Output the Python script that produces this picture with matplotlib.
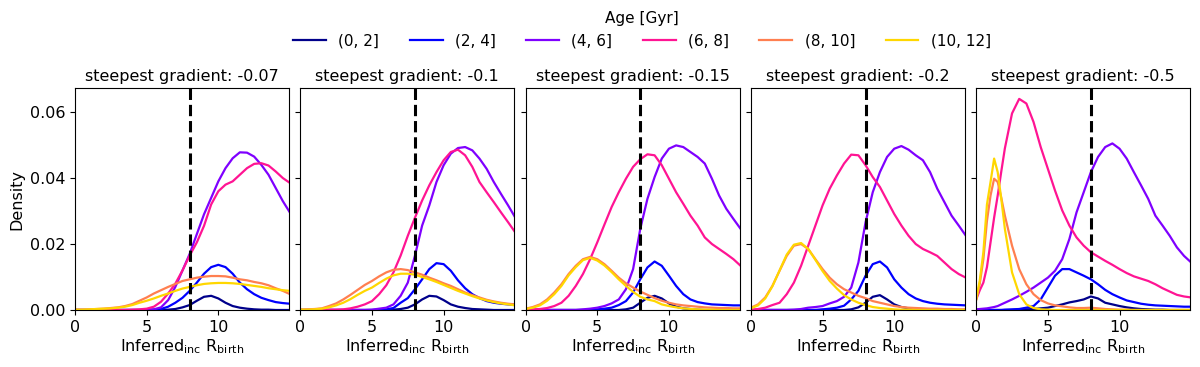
import matplotlib.pyplot as plt

# ==============================================================================
# Data
# ==============================================================================

AGE_BINS = ['(0, 2]', '(2, 4]', '(4, 6]', '(6, 8]', '(8, 10]', '(10, 12]']
COLORS = ['#00008b', '#0000ff', '#7f00ff', '#ff1493', '#ff7f50', '#ffd700']
GRADIENTS = ['-0.07', '-0.1', '-0.15', '-0.2', '-0.5']
R_SUN = 8

X_GRID = [0, 0.5, 1, 1.5, 2, 2.5, 3, 3.5, 4, 4.5, 5, 5.5, 6, 6.5, 7, 7.5,
          8, 8.5, 9, 9.5, 10, 10.5, 11, 11.5, 12, 12.5, 13, 13.5, 14, 14.5, 15]

X_GRID_FINE = [0, 0.25, 0.5, 0.75, 1, 1.25, 1.5, 1.75, 2, 2.5, 3, 3.5, 4, 4.5,
               5, 5.5, 6, 6.5, 7, 7.5, 8, 8.5, 9, 9.5, 10, 10.5, 11, 11.5, 12,
               12.5, 13, 13.5, 14, 14.5, 15]

# gradient -0.07
p1_age0 = [0, 0, 0, 0, 0, 0, 0, 0, 0, 0, 0, 0, 0, 0.0001, 0.0003, 0.0008,
           0.0015, 0.0028, 0.004, 0.0043, 0.0035, 0.0022, 0.0012, 0.0007,
           0.0004, 0.0002, 0.0001, 0.0001, 0, 0, 0]
p1_age2 = [0, 0, 0, 0, 0, 0, 0, 0, 0, 0, 0, 0.0001, 0.0003, 0.001, 0.0022,
           0.0037, 0.0058, 0.0083, 0.011, 0.013, 0.0137, 0.013, 0.011, 0.0083,
           0.0063, 0.0048, 0.0037, 0.003, 0.0024, 0.0021, 0.0019]
p1_age4 = [0, 0, 0, 0, 0, 0, 0, 0, 0, 0, 0.0001, 0.0002, 0.0008, 0.003,
           0.007, 0.012, 0.017, 0.023, 0.029, 0.034, 0.039, 0.043, 0.046,
           0.0478, 0.0477, 0.0465, 0.044, 0.041, 0.037, 0.033, 0.0295]
p1_age6 = [0, 0, 0, 0, 0, 0, 0, 0, 0.0001, 0.0002, 0.0004, 0.001, 0.0025,
           0.005, 0.008, 0.012, 0.0165, 0.0205, 0.0255, 0.032, 0.036, 0.038,
           0.039, 0.041, 0.043, 0.0443, 0.0445, 0.0438, 0.042, 0.040, 0.0385]
p1_age8 = [0.0001, 0.0001, 0.0002, 0.0003, 0.0004, 0.0006, 0.0008, 0.0012,
           0.0018, 0.0028, 0.0038, 0.005, 0.006, 0.007, 0.0079, 0.0088,
           0.0093, 0.0098, 0.0101, 0.0103, 0.0103, 0.0102, 0.0098, 0.0093,
           0.009, 0.0085, 0.0081, 0.0075, 0.0066, 0.0058, 0.0048]
p1_age10 = [0.0001, 0.0001, 0.0002, 0.0003, 0.0004, 0.0005, 0.0007, 0.001,
            0.0015, 0.0022, 0.0028, 0.0035, 0.0043, 0.005, 0.0058, 0.0065,
            0.007, 0.0075, 0.0079, 0.0081, 0.0082, 0.0082, 0.0081, 0.0079,
            0.0076, 0.0073, 0.007, 0.0066, 0.0063, 0.006, 0.0058]

# gradient -0.1
p2_age0 = [0, 0, 0, 0, 0, 0, 0, 0, 0, 0, 0, 0, 0, 0.0001, 0.0003, 0.0007,
           0.0017, 0.0032, 0.0043, 0.0041, 0.003, 0.0017, 0.001, 0.0006,
           0.0003, 0.0002, 0.0001, 0, 0, 0, 0]
p2_age2 = [0, 0, 0, 0, 0, 0, 0, 0, 0, 0, 0, 0.0001, 0.0002, 0.0006, 0.0022,
           0.0036, 0.0063, 0.0093, 0.0124, 0.0142, 0.0139, 0.0119, 0.009,
           0.0066, 0.0048, 0.0036, 0.0027, 0.0022, 0.0019, 0.0017, 0.0016]
p2_age4 = [0, 0, 0, 0, 0, 0, 0, 0, 0, 0, 0.0001, 0.0004, 0.0007, 0.0017,
           0.0043, 0.0083, 0.0165, 0.0256, 0.0317, 0.0388, 0.0439, 0.0474,
           0.0491, 0.0494, 0.0484, 0.0459, 0.0428, 0.0388, 0.0352, 0.0317,
           0.028]
p2_age6 = [0, 0, 0, 0, 0.0001, 0.0001, 0.0002, 0.0005, 0.001, 0.0017, 0.0027,
           0.0048, 0.0075, 0.0114, 0.0165, 0.0225, 0.028, 0.0332, 0.0378,
           0.0418, 0.0454, 0.0479, 0.0486, 0.0469, 0.0434, 0.0388, 0.0357,
           0.0327, 0.0296, 0.0266, 0.0235]
p2_age8 = [0.0001, 0.0002, 0.0003, 0.0005, 0.0012, 0.002, 0.0032, 0.0046,
           0.0061, 0.0076, 0.0088, 0.0102, 0.0114, 0.0122, 0.0124, 0.0121,
           0.0114, 0.0107, 0.0098, 0.009, 0.0081, 0.0073, 0.0063, 0.0053,
           0.0045, 0.0038, 0.0031, 0.0026, 0.0022, 0.0019, 0.0017]
p2_age10 = [0.0001, 0.0001, 0.0002, 0.0004, 0.0008, 0.0014, 0.0022, 0.0033,
            0.0046, 0.0058, 0.0068, 0.0082, 0.0095, 0.0105, 0.011, 0.011,
            0.0107, 0.01, 0.0093, 0.0085, 0.0076, 0.0067, 0.0058, 0.005,
            0.0042, 0.0035, 0.0029, 0.0024, 0.002, 0.0017, 0.0014]

# gradient -0.15
p3_age0 = [0, 0, 0, 0, 0, 0, 0, 0, 0, 0, 0, 0, 0, 0, 0.0002, 0.0007, 0.0022,
           0.0037, 0.0043, 0.0035, 0.002, 0.001, 0.0005, 0.0003, 0.0001, 0,
           0, 0, 0, 0, 0]
p3_age2 = [0, 0, 0, 0, 0, 0, 0, 0, 0, 0, 0.0002, 0.0004, 0.0007, 0.0015,
           0.0027, 0.0053, 0.0093, 0.0129, 0.0147, 0.0134, 0.0104, 0.0073,
           0.0048, 0.0032, 0.0024, 0.002, 0.0017, 0.0016, 0.0015, 0.0014,
           0.0014]
p3_age4 = [0, 0, 0, 0, 0, 0, 0, 0, 0.0002, 0.0004, 0.0007, 0.0012, 0.002,
           0.0032, 0.0063, 0.0124, 0.0246, 0.0337, 0.0403, 0.0459, 0.0489,
           0.0499, 0.0494, 0.0479, 0.0464, 0.0444, 0.0398, 0.0347, 0.0307,
           0.0276, 0.0246]
p3_age6 = [0.0001, 0.0002, 0.0003, 0.0006, 0.0012, 0.0022, 0.0043, 0.0073,
           0.0109, 0.0154, 0.0205, 0.0259, 0.0312, 0.0357, 0.0398, 0.0434,
           0.0457, 0.0472, 0.0469, 0.0439, 0.0398, 0.0357, 0.0322, 0.0286,
           0.0256, 0.022, 0.02, 0.0185, 0.017, 0.0154, 0.0134]
p3_age8 = [0.0004, 0.0009, 0.0017, 0.0032, 0.0053, 0.0078, 0.0109, 0.0134,
           0.0154, 0.0161, 0.0154, 0.0139, 0.0119, 0.0098, 0.0081, 0.0068,
           0.0056, 0.0046, 0.0036, 0.0028, 0.0022, 0.0017, 0.0014, 0.0012,
           0.001, 0.0008, 0.0007, 0.0006, 0.0006, 0.0005, 0.0005]
p3_age10 = [0.0003, 0.0007, 0.0014, 0.0028, 0.0048, 0.0073, 0.0105, 0.013,
            0.0151, 0.0158, 0.015, 0.0135, 0.0115, 0.0093, 0.0073, 0.0055,
            0.004, 0.0032, 0.0027, 0.0017, 0.0012, 0.0008, 0.0005, 0.0003,
            0.0002, 0.0001, 0.0001, 0, 0, 0, 0]

# gradient -0.2
p4_age0 = [0, 0, 0, 0, 0, 0, 0, 0, 0, 0, 0, 0, 0, 0, 0.0002, 0.0008, 0.0022,
           0.004, 0.0045, 0.0032, 0.0017, 0.0009, 0.0005, 0.0002, 0.0001, 0,
           0, 0, 0, 0, 0]
p4_age2 = [0, 0, 0, 0, 0, 0, 0, 0, 0, 0, 0.0002, 0.0004, 0.0007, 0.0013,
           0.0032, 0.0058, 0.0104, 0.0139, 0.0147, 0.0129, 0.0093, 0.0068,
           0.0048, 0.0035, 0.0027, 0.0022, 0.0019, 0.0017, 0.0016, 0.0015,
           0.0014]
p4_age4 = [0, 0, 0, 0, 0, 0, 0.0001, 0.0003, 0.0007, 0.0009, 0.0012, 0.002,
           0.0027, 0.004, 0.0068, 0.0144, 0.0266, 0.0357, 0.0418, 0.0464,
           0.0489, 0.0497, 0.0486, 0.0469, 0.0454, 0.0418, 0.0368, 0.0327,
           0.0286, 0.0256, 0.0225]
p4_age6 = [0.0001, 0.0003, 0.0007, 0.0015, 0.0022, 0.0048, 0.0083, 0.0134,
           0.0195, 0.0256, 0.0317, 0.0368, 0.0408, 0.0444, 0.0471, 0.0469,
           0.0439, 0.0403, 0.0373, 0.0332, 0.0291, 0.0256, 0.0225, 0.02,
           0.0185, 0.0175, 0.0164, 0.0144, 0.0124, 0.0109, 0.0098]
p4_age8 = [0.0007, 0.0017, 0.0038, 0.0073, 0.0119, 0.0164, 0.0195, 0.02,
           0.0185, 0.0154, 0.0124, 0.0098, 0.0078, 0.0063, 0.0053, 0.0043,
           0.0036, 0.0027, 0.0022, 0.0017, 0.0012, 0.0009, 0.0007, 0.0006,
           0.0005, 0.0004, 0.0004, 0.0003, 0.0003, 0.0002, 0.0002]
p4_age10 = [0.0005, 0.0014, 0.0035, 0.0072, 0.012, 0.0168, 0.0198, 0.0203,
            0.0185, 0.0152, 0.0118, 0.0088, 0.0065, 0.0045, 0.0032, 0.0022,
            0.0015, 0.0009, 0.0006, 0.0004, 0.0002, 0.0001, 0.0001, 0, 0, 0,
            0, 0, 0, 0, 0]

# gradient -0.5 (finer grid near the inner peaks)
p5_age0 = [0, 0, 0, 0, 0, 0, 0, 0, 0, 0, 0.0001, 0.0002, 0.0003, 0.0005,
           0.0007, 0.0012, 0.0017, 0.0023, 0.0027, 0.0032, 0.0041, 0.0035,
           0.0022, 0.0017, 0.0012, 0.0008, 0.0005, 0.0003, 0.0002, 0.0001,
           0.0001, 0, 0, 0, 0]
p5_age2 = [0, 0, 0, 0, 0, 0, 0, 0, 0.0001, 0.0002, 0.0003, 0.0007, 0.0012,
           0.0032, 0.0068, 0.0104, 0.0124, 0.0124, 0.0114, 0.0104, 0.0093,
           0.0078, 0.0061, 0.0048, 0.0038, 0.0029, 0.0024, 0.0019, 0.0016,
           0.0014, 0.0013, 0.0012, 0.0011, 0.001, 0.001]
p5_age4 = [0.0002, 0.0003, 0.0004, 0.0005, 0.0007, 0.0009, 0.0012, 0.0017,
           0.0022, 0.0032, 0.0043, 0.0055, 0.0068, 0.0083, 0.0098, 0.0119,
           0.0154, 0.0215, 0.0296, 0.0357, 0.0418, 0.0464, 0.0494, 0.0505,
           0.0489, 0.0459, 0.0418, 0.0378, 0.0337, 0.0286, 0.0256, 0.0225,
           0.019, 0.0164, 0.0144]
p5_age6 = [0.0032, 0.006, 0.0083, 0.013, 0.0205, 0.028, 0.0347, 0.042, 0.049,
           0.0596, 0.064, 0.0626, 0.057, 0.0494, 0.0428, 0.0362, 0.0302,
           0.0256, 0.022, 0.0195, 0.0175, 0.0162, 0.0149, 0.0137, 0.0124,
           0.0112, 0.0102, 0.0095, 0.0088, 0.0078, 0.0066, 0.0056, 0.0046,
           0.0041, 0.0038]
p5_age8 = [0.0032, 0.008, 0.0154, 0.027, 0.0347, 0.0398, 0.0388, 0.034,
           0.0286, 0.0195, 0.0124, 0.0078, 0.0048, 0.003, 0.002, 0.0014,
           0.0011, 0.0008, 0.0006, 0.0006, 0.0007, 0.0005, 0.0003, 0.0002,
           0.0001, 0.0001, 0, 0, 0, 0, 0, 0, 0, 0, 0]
p5_age10 = [0.0032, 0.009, 0.0175, 0.032, 0.0388, 0.0459, 0.0418, 0.0337,
            0.0246, 0.0114, 0.0048, 0.0017, 0.0006, 0.0002, 0.0001, 0, 0, 0,
            0, 0, 0, 0, 0, 0, 0, 0, 0, 0, 0, 0, 0, 0, 0, 0, 0]

PANELS = [
    (X_GRID, [p1_age0, p1_age2, p1_age4, p1_age6, p1_age8, p1_age10]),
    (X_GRID, [p2_age0, p2_age2, p2_age4, p2_age6, p2_age8, p2_age10]),
    (X_GRID, [p3_age0, p3_age2, p3_age4, p3_age6, p3_age8, p3_age10]),
    (X_GRID, [p4_age0, p4_age2, p4_age4, p4_age6, p4_age8, p4_age10]),
    (X_GRID_FINE, [p5_age0, p5_age2, p5_age4, p5_age6, p5_age8, p5_age10]),
]

# ==============================================================================
# Plot
# ==============================================================================

plt.rcParams['font.size'] = 11.5

fig = plt.figure(figsize=(12, 3.67), dpi=100)

left0 = 75 / 1200
step = 225.3 / 1200
width = 214 / 1200
bottom = 1 - 310 / 367
height = (310 - 88) / 367

axes = []
for i, (xs, curves) in enumerate(PANELS):
    ax = fig.add_axes([left0 + i * step, bottom, width, height],
                      sharey=axes[0] if axes else None)
    for label, color, ys in zip(AGE_BINS, COLORS, curves):
        ax.plot(xs, ys, color=color, lw=1.6, label=label)
    ax.axvline(R_SUN, color='k', ls='--', lw=2.2)
    ax.set_xlim(0, 14.93)
    ax.set_ylim(0, 0.0673)
    ax.set_xticks([0, 5, 10])
    ax.set_yticks([0, 0.02, 0.04, 0.06])
    ax.set_title('steepest gradient: ' + GRADIENTS[i], fontsize=11.5, pad=5)
    ax.set_xlabel(r'Inferred$_{\rm inc}$ R$_{\rm birth}$', labelpad=2)
    if i == 0:
        ax.set_ylabel('Density')
    else:
        ax.tick_params(labelleft=False)
    axes.append(ax)

handles, labels = axes[0].get_legend_handles_labels()
fig.legend(handles, labels, title='Age [Gyr]', ncol=6, frameon=False,
           loc='upper center', bbox_to_anchor=(0.535, 1.008),
           fontsize=11, title_fontsize=11, handlelength=2.15,
           columnspacing=2.0)

fig.savefig('out.png', dpi=100)
